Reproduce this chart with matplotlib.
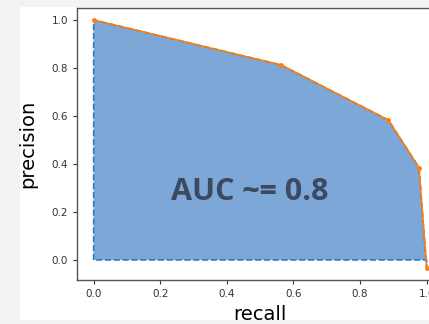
import matplotlib
matplotlib.use("Agg")
import matplotlib.pyplot as plt
from matplotlib.patches import Rectangle

recall = [0.0, 0.563, 0.885, 0.977, 1.0]
precision = [1.0, 0.8125, 0.583, 0.385, -0.032]
xticks = [0.0, 0.2, 0.4, 0.6, 0.8, 1.0]
yticks = [0.0, 0.2, 0.4, 0.6, 0.8, 1.0]
annotation = "AUC ~= 0.8"

fig = plt.figure(figsize=(4.29, 3.24), dpi=100)
fig.patch.set_facecolor("#f3f3f3")
# white figure area (screenshot crop)
fig.add_artist(Rectangle((20/429, 4/324), 1.0, 1.0 - 4/324 - 7/324,
                         transform=fig.transFigure, facecolor="white",
                         edgecolor="none", zorder=0))

ax = fig.add_axes([77/429, 44/324, 366.3/429, 272.4/324])
ax.set_facecolor("white")

ax.fill_between(recall, precision, 0, facecolor="#7ca7d7",
                edgecolor="#2f7bbf", linestyle="--", linewidth=1.2, zorder=1)
ax.plot(recall, precision, color="#ff7f0e", marker=".", markersize=5,
        linewidth=1.2, zorder=3)

ax.set_xticks(xticks)
ax.set_yticks(yticks)
ax.set_xticklabels([f"{t:.1f}" for t in xticks], fontsize=7.5)
ax.set_yticklabels([f"{t:.1f}" for t in yticks], fontsize=7.5)
ax.tick_params(length=3, width=0.8, colors="#333333")
for s in ax.spines.values():
    s.set_color("#555555")
    s.set_linewidth(1.0)

ax.set_xlabel("recall", fontsize=14, labelpad=4)
ax.set_ylabel("precision", fontsize=14, labelpad=10)

ax.text(0.47, 0.283, annotation, fontsize=22, fontweight="bold",
        family=["Open Sans", "DejaVu Sans"], color="#3b4a60",
        ha="center", va="center", zorder=4)

fig.savefig("out.png", dpi=100, facecolor=fig.get_facecolor())
